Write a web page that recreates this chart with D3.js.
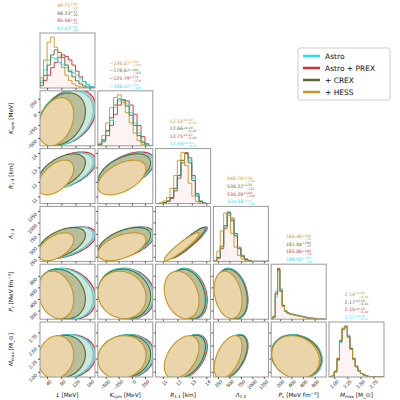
<!DOCTYPE html>
<html><head><meta charset="utf-8">
<script src="https://cdn.jsdelivr.net/npm/d3@7"></script>
<style>body{margin:0;background:#fff}svg{font-family:"DejaVu Sans",sans-serif}</style>
</head><body><div id="c"></div>
<script>
const series = ["Astro", "Astro + PREX", "+ CREX", "+ HESS"];
const lineColors = ["#22e5ea", "#c8303a", "#556b2f", "#c8961e"];
const fillColors = ["#cfe6df", "#e4b4b6", "#b7bd9d", "#e9d5a9"];
const params = ["L","Ksym","R","Lam","Pc","Mmax"];
const axisLabels = ["L [MeV]","K_sym [MeV]","R_1.4 [km]","Λ_1.4","P_c [MeV fm^−3]","M_max [M_⊙]"];
const ranges = [[20,175],[-650,400],[10.5,14.3],[150,1350],[50,1000],[1.9,2.95]];
const ticks = [[40,80,120,160],[-500,-250,0,250],[11,12,13,14],[250,500,750,1000,1250],[200,400,600,800],[2.00,2.25,2.50,2.75]];
const binStart = [20,-650,10.5,150,40,1.9];
const binWidth = [10,75,0.25,75,40,0.05];
const hists = [
 [[0.15,0.35,0.55,0.6,0.58,0.5,0.45,0.4,0.35,0.3,0.25,0.18,0.12,0.07,0.03,0.01],
  [0.05,0.15,0.25,0.4,0.5,0.6,0.65,0.62,0.55,0.45,0.33,0.22,0.13,0.07,0.03,0.01],
  [0.1,0.25,0.45,0.65,0.75,0.7,0.6,0.45,0.32,0.22,0.14,0.08,0.04,0.02,0.01,0],
  [0.2,0.55,0.9,1.0,0.8,0.6,0.4,0.25,0.15,0.08,0.04,0.02,0.01,0,0,0]],
 [[0.03,0.1,0.28,0.5,0.75,0.88,0.9,0.82,0.65,0.45,0.25,0.09,0.02,0],
  [0.02,0.08,0.2,0.4,0.62,0.8,0.9,0.88,0.8,0.62,0.4,0.18,0.04,0],
  [0.03,0.12,0.3,0.55,0.8,0.92,0.9,0.78,0.6,0.4,0.2,0.07,0.01,0],
  [0.05,0.2,0.45,0.75,0.95,1.0,0.85,0.65,0.45,0.25,0.1,0.03,0,0]],
 [[0,0,0.02,0.05,0.12,0.3,0.55,0.85,0.98,0.85,0.5,0.18,0.05,0.01,0],
  [0,0,0.01,0.04,0.1,0.25,0.5,0.8,1.0,0.9,0.55,0.2,0.05,0.01,0],
  [0,0,0.02,0.05,0.12,0.3,0.55,0.85,0.98,0.8,0.45,0.15,0.04,0.01,0],
  [0,0.02,0.05,0.12,0.3,0.55,0.85,1.0,0.75,0.4,0.15,0.04,0.01,0,0]],
 [[0,0.07,0.28,0.68,0.98,0.83,0.52,0.27,0.11,0.04,0.01,0,0,0,0,0],
  [0,0.06,0.25,0.65,0.95,0.85,0.55,0.28,0.12,0.05,0.02,0,0,0,0,0],
  [0,0.08,0.3,0.7,0.95,0.8,0.5,0.25,0.1,0.04,0.01,0,0,0,0,0],
  [0.02,0.2,0.6,0.95,0.9,0.55,0.28,0.12,0.05,0.02,0,0,0,0,0,0]],
 [[0,0.05,0.45,0.95,0.6,0.28,0.17,0.13,0.11,0.1,0.09,0.08,0.07,0.06,0.05,0.04,0.03,0.02,0.02,0.01,0,0,0,0],
  [0,0.04,0.5,1.0,0.55,0.26,0.16,0.13,0.11,0.1,0.09,0.08,0.07,0.06,0.05,0.04,0.03,0.02,0.02,0.01,0,0,0,0],
  [0,0.05,0.5,0.98,0.57,0.27,0.16,0.12,0.1,0.09,0.08,0.07,0.06,0.05,0.04,0.03,0.02,0.02,0.01,0.01,0,0,0,0],
  [0,0.06,0.55,0.95,0.55,0.25,0.15,0.12,0.1,0.09,0.08,0.07,0.06,0.05,0.04,0.03,0.02,0.02,0.01,0.01,0,0,0,0]],
 [[0,0.02,0.1,0.33,0.68,0.93,1.0,0.82,0.57,0.37,0.22,0.13,0.07,0.04,0.02,0.01,0,0,0,0,0],
  [0,0.02,0.11,0.36,0.72,0.96,0.98,0.78,0.55,0.35,0.2,0.12,0.07,0.04,0.02,0.01,0,0,0,0,0],
  [0,0.02,0.1,0.34,0.7,0.94,1.0,0.8,0.56,0.36,0.21,0.12,0.07,0.04,0.02,0.01,0,0,0,0,0],
  [0,0.02,0.12,0.37,0.72,0.95,0.99,0.78,0.54,0.34,0.2,0.12,0.07,0.04,0.02,0.01,0,0,0,0,0]]
];
const centres = [[92,-120,12.75,560,490,2.29],[98,-95,12.8,560,490,2.29],[82,-140,12.72,555,485,2.29],[65,-190,12.3,470,470,2.28]];
const halfWidths = [[78,520,1.25,340,440,0.42],[80,530,1.27,345,440,0.42],[66,500,1.22,335,430,0.41],[50,460,1.2,305,410,0.41]];
const corr = [[1,0.3,0.5,0.5,-0.2,0.1],[0.3,1,0.5,0.5,-0.1,0.1],[0.5,0.5,1,0.93,-0.25,0.45],[0.5,0.5,0.93,1,-0.25,0.5],[-0.2,-0.1,-0.25,-0.25,1,-0.15],[0.1,0.1,0.45,0.5,-0.15,1]];
const titles = [
 ["63.63","85.56","68.23","49.71"],["−180.47","−125.79","−178.67","−236.07"],["12.64","12.75","12.66","12.18"],
 ["534.58","530.28","530.22","446.76"],["188.60","183.06","181.04","184.40"],["2.17","2.15","2.17","2.14"]];
const errs = [
 [["+44","−28"],["+43","−31"],["+33","−22"],["+24","−13"]],[["+170","−160"],["+174","−170"],["+160","−165"],["+150","−160"]],
 [["+0.41","−0.45"],["+0.41","−0.44"],["+0.40","−0.45"],["+0.39","−0.40"]],[["+141","−128"],["+140","−120"],["+138","−121"],["+130","−110"]],
 [["+300","−50"],["+294","−51"],["+290","−47"],["+298","−51"]],[["+0.20","−0.11"],["+0.19","−0.10"],["+0.19","−0.10"],["+0.20","−0.10"]]];

const W=400,H=400,padL=40,padT=33,size=55,step=57.8;
const svg=d3.select("#c").append("svg").attr("width",W).attr("height",H);
const xs=params.map((p,i)=>d3.scaleLinear().domain(ranges[i]).range([0,size]));
const ys=params.map((p,i)=>d3.scaleLinear().domain(ranges[i]).range([size,0]));
const drawOrder=[1,0,2,3];
function fmt(v,i){return i===5?d3.format(".2f")(v):d3.format("d")(v).replace("-","−");}
function sub(t,str){
  const m=str.match(/^([^_ ])_([^ ]+)(.*)$/);
  if(!m){const m2=str.match(/^(\S)(.*)$/);t.append("tspan").text(m2[1]).attr("font-style","italic");t.append("tspan").text(m2[2]);return;}
  t.append("tspan").text(m[1]).attr("font-style","italic");
  t.append("tspan").text(m[2]).attr("font-size","0.7em").attr("dy","0.25em");
  let rest=m[3];
  if(!rest)return;
  const mm=rest.match(/^(.*)\^(.*?)(\]?)$/);
  if(mm){t.append("tspan").text(mm[1]).attr("dy","-0.25em");t.append("tspan").text(mm[2]).attr("font-size","0.7em").attr("dy","-0.3em");t.append("tspan").text(mm[3]).attr("dy","0.3em");}
  else t.append("tspan").text(rest).attr("dy","-0.25em");
}
for(let r=0;r<6;r++)for(let c=0;c<=r;c++){
  const g=svg.append("g").attr("transform",`translate(${padL+c*step},${padT+r*step})`);
  const cid=`clip${r}${c}`;
  g.append("clipPath").attr("id",cid).append("rect").attr("width",size).attr("height",size);
  const pg=g.append("g").attr("clip-path",`url(#${cid})`);
  if(r===c){
    const yh=d3.scaleLinear().domain([0,1.08]).range([size,0]);
    drawOrder.forEach(s=>{
      const h=hists[c][s];const pts=[];
      h.forEach((v,k)=>{const x0=binStart[c]+k*binWidth[c];pts.push([x0,v],[x0+binWidth[c],v]);});
      const ln=d3.line().x(d=>xs[c](d[0])).y(d=>yh(d[1]));
      pg.append("path").attr("d",ln([[binStart[c],0],...pts,[binStart[c]+h.length*binWidth[c],0]]))
        .attr("fill",s===1?"rgba(200,48,58,0.06)":"none").attr("stroke",lineColors[s]).attr("stroke-width",0.9);
    });
    [3,2,1,0].forEach((s,k)=>{
      const t=g.append("text").attr("x",size/2).attr("y",-26+k*7.6).attr("text-anchor","middle")
        .attr("font-size",4.6).attr("fill",lineColors[s]);
      t.append("tspan").text(titles[c][s]);
      t.append("tspan").text(errs[c][s][0]).attr("font-size",3.2).attr("dy",-1.6);
      t.append("tspan").text(errs[c][s][1]).attr("font-size",3.2).attr("dx",-6).attr("dy",3.2);
    });
  } else {
    drawOrder.forEach(s=>{
      const cx=centres[s][c],cy=centres[s][r],rx=halfWidths[s][c],ry=halfWidths[s][r],rho=corr[r][c];
      const pts=d3.range(0,2*Math.PI,Math.PI/24).map(t=>[cx+rx*Math.cos(t),cy+ry*(rho*Math.cos(t)+Math.sqrt(1-rho*rho)*Math.sin(t))]);
      pg.append("path").attr("d",d3.line().x(d=>xs[c](d[0])).y(d=>ys[r](d[1])).curve(d3.curveCardinalClosed)(pts))
        .attr("fill",fillColors[s]).attr("stroke",lineColors[s]).attr("stroke-width",1.1);
    });
  }
  g.append("rect").attr("width",size).attr("height",size).attr("fill","none").attr("stroke","#999").attr("stroke-width",1);
  const xa=g.append("g").attr("transform",`translate(0,${size})`).call(d3.axisBottom(xs[c]).tickValues(ticks[c]).tickSize(2).tickFormat(r===5?(v=>fmt(v,c)):""));
  xa.select(".domain").remove();xa.selectAll("line").attr("stroke","#555");
  if(r===5){xa.selectAll("text").attr("font-size",5).attr("text-anchor","end").attr("transform","rotate(-45)").attr("dx","-0.1em").attr("dy","0.3em").attr("fill","#222");
    g.append("text").attr("x",size/2).attr("y",size+20).attr("text-anchor","middle").attr("font-size",5.8).attr("fill","#111").call(t=>sub(t,axisLabels[c]));}
  if(r!==c){
    const ya=g.append("g").call(d3.axisLeft(ys[r]).tickValues(ticks[r]).tickSize(2).tickFormat(c===0?(v=>fmt(v,r)):""));
    ya.select(".domain").remove();ya.selectAll("line").attr("stroke","#555");
    if(c===0){ya.selectAll("text").attr("font-size",5).attr("text-anchor","end").attr("transform","rotate(-45)").attr("dx","0.2em").attr("dy","0.1em").attr("fill","#222");
      g.append("text").attr("transform",`translate(-27,${size/2}) rotate(-90)`).attr("text-anchor","middle").attr("font-size",5.8).attr("fill","#111").call(t=>sub(t,axisLabels[r]));}
  }
}
const lg=svg.append("g").attr("transform","translate(298,48)");
lg.append("rect").attr("width",92).attr("height",52).attr("fill","#fff").attr("stroke","#ccc").attr("rx",2);
series.forEach((s,i)=>{
  lg.append("line").attr("x1",5).attr("x2",22).attr("y1",8+i*12).attr("y2",8+i*12).attr("stroke",lineColors[i]).attr("stroke-width",2.5);
  lg.append("text").attr("x",27).attr("y",11+i*12).attr("font-size",7.5).attr("fill","#111").text(s);
});
</script></body></html>
